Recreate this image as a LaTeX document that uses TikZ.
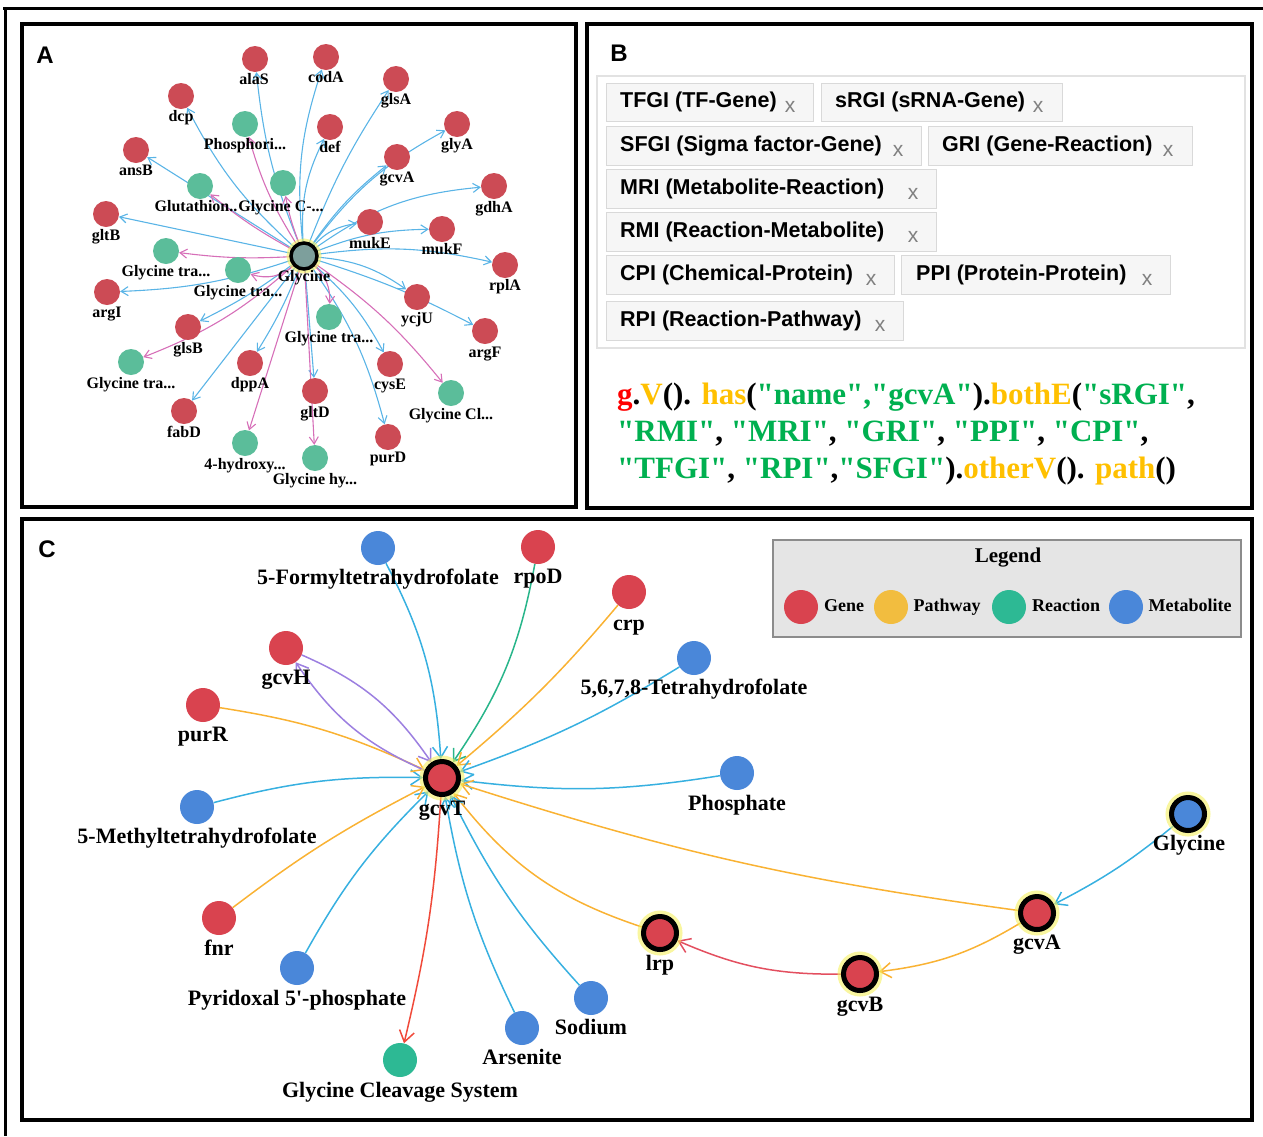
\documentclass[tikz,border=0pt]{standalone}
\usepackage{fontspec}
\setmainfont{Liberation Serif}
\newfontfamily\arialf{Liberation Sans}
\newfontfamily\plainserif{Liberation Serif}[Ligatures=TeXOff]
\usetikzlibrary{arrows.meta,bending}
\pgfdeclarelayer{edges}
\pgfsetlayers{edges,main}
% colours
\definecolor{geneA}{HTML}{CC4B55}
\definecolor{rxnA}{HTML}{5BBD9A}
\definecolor{hubA}{HTML}{7D9F9C}
\definecolor{eblue}{HTML}{5AB4E6}
\definecolor{epink}{HTML}{D66FB8}
\definecolor{glow}{HTML}{F5F060}
\definecolor{geneC}{HTML}{D9434F}
\definecolor{pathC}{HTML}{F2BD3F}
\definecolor{rxnC}{HTML}{2DB994}
\definecolor{metC}{HTML}{4A87D9}
\definecolor{cblue}{HTML}{37B0E0}
\definecolor{corange}{HTML}{F9B233}
\definecolor{cgreen}{HTML}{28B58A}
\definecolor{cpurple}{HTML}{9C7FE0}
\definecolor{cred}{HTML}{F04A3A}
\definecolor{cred2}{HTML}{E34F5F}
\definecolor{legfill}{HTML}{E5E5E5}
\definecolor{legborder}{HTML}{8C8C8C}
\definecolor{tagfill}{HTML}{F6F6F6}
\definecolor{tagborder}{HTML}{D9D9D9}
\definecolor{fieldborder}{HTML}{E2E2E2}
\definecolor{xgrey}{HTML}{808080}
\definecolor{codered}{HTML}{FF0000}
\definecolor{codeorange}{HTML}{FFC000}
\definecolor{codegreen}{HTML}{00B050}
\newcommand\labAfont{\fontsize{16}{16}\selectfont\bfseries}
\newcommand\labCfont{\fontsize{22}{22}\selectfont\bfseries}
\newcommand\legfont{\fontsize{18}{18}\selectfont\bfseries}
\newcommand\tagfont{\arialf\fontsize{21.5}{22}\selectfont\bfseries}
\newcommand\xfont{\arialf\fontsize{21}{21}\selectfont}
\newcommand\codefont{\plainserif\fontsize{31}{37}\selectfont\bfseries}
\newcommand\cR[1]{\textcolor{codered}{#1}}
\newcommand\cO[1]{\textcolor{codeorange}{#1}}
\newcommand\cG[1]{\textcolor{codegreen}{#1}}
\tikzset{
  frame/.style={draw=black, line width=4pt},
  plet/.style={font=\arialf\fontsize{24}{24}\selectfont\bfseries, inner sep=0pt},
  gA/.style={circle, fill=geneA, minimum size=26pt, inner sep=0pt},
  rA/.style={circle, fill=rxnA, minimum size=26pt, inner sep=0pt},
  hubAst/.style={circle, draw=black, line width=3.5pt, fill=hubA, minimum size=26pt, inner sep=0pt,
     preaction={draw=glow, line width=9pt, opacity=0.6}},
  lA/.style={font=\labAfont, inner sep=0pt, text height=11pt, text depth=3pt},
  eb/.style={draw=eblue, line width=1.1pt, -{Straight Barb[length=7pt,width=9pt]}},
  ep/.style={draw=epink, line width=1.1pt, -{Straight Barb[length=7pt,width=9pt]}},
  nC/.style={circle, minimum size=34pt, inner sep=0pt},
  gC/.style={nC, fill=geneC},
  mC/.style={nC, fill=metC},
  rC/.style={nC, fill=rxnC},
  pC/.style={nC, fill=pathC},
  hubC/.style={circle, draw=black, line width=5pt, minimum size=33pt, inner sep=0pt,
     preaction={draw=glow, line width=12pt, opacity=0.6}},
  lC/.style={font=\labCfont, inner sep=0pt, text height=15pt, text depth=5pt},
  legl/.style={font=\legfont, inner sep=0pt, text height=12pt, text depth=4pt},
  ec/.style={line width=1.5pt, -{Straight Barb[length=11pt,width=15pt]}},
  tagbox/.style={draw=tagborder, fill=tagfill, line width=1pt, inner sep=0pt},
  tagtxt/.style={font=\tagfont, inner sep=0pt, anchor=west, text height=15pt, text depth=4pt},
  tagx/.style={font=\xfont, text=xgrey, inner sep=0pt},
  codeline/.style={font=\codefont, inner sep=0pt, anchor=base west}
}
\begin{document}
\begin{tikzpicture}[x=1pt,y=1pt]
\useasboundingbox (0,0) rectangle (1263,-1136);
% ---------- frames ----------
\draw[line width=3pt] (3,-8) -- (1263,-8);
\draw[line width=3pt] (5,-8) -- (5,-1136);
\draw[frame] (22,-24) rectangle (576,-507);
\draw[frame] (587,-24) rectangle (1252,-508);
\draw[frame] (22,-519) rectangle (1252,-1120);
\node[plet] (letA) at (45,-55) {A};
\node[plet] (letB) at (619,-53) {B};
\node[plet] (letC) at (47,-549) {C};

% ---------- panel A ----------
\node[hubAst] (a-gly) at (304,-256) {};
\node[lA] (a-gly-l) at (304,-277) {Glycine};
% genes
\node[gA] (a-alaS) at (255,-59) {};  \node[lA] at (254,-80) (a-alaS-l) {alaS};
\node[gA] (a-codA) at (326,-57) {};  \node[lA] at (326,-78) (a-codA-l) {codA};
\node[gA] (a-glsA) at (396,-79) {};  \node[lA] at (396,-100) (a-glsA-l) {glsA};
\node[gA] (a-dcp) at (181,-96) {};   \node[lA] at (181,-117) (a-dcp-l) {dcp};
\node[gA] (a-glyA) at (457,-124) {}; \node[lA] at (457,-145) (a-glyA-l) {glyA};
\node[gA] (a-def) at (330,-127) {};  \node[lA] at (330,-148) (a-def-l) {def};
\node[gA] (a-ansB) at (136,-150) {}; \node[lA] at (136,-171) (a-ansB-l) {ansB};
\node[gA] (a-gcvA) at (397,-157) {}; \node[lA] at (397,-178) (a-gcvA-l) {gcvA};
\node[gA] (a-gdhA) at (494,-186) {}; \node[lA] at (494,-208) (a-gdhA-l) {gdhA};
\node[gA] (a-gltB) at (106,-214) {}; \node[lA] at (106,-236) (a-gltB-l) {gltB};
\node[gA] (a-mukE) at (370,-222) {}; \node[lA] at (370,-244) (a-mukE-l) {mukE};
\node[gA] (a-mukF) at (442,-229) {}; \node[lA] at (442,-250) (a-mukF-l) {mukF};
\node[gA] (a-rplA) at (505,-265) {}; \node[lA] at (505,-286) (a-rplA-l) {rplA};
\node[gA] (a-argI) at (107,-292) {}; \node[lA] at (107,-313) (a-argI-l) {argI};
\node[gA] (a-ycjU) at (417,-297) {}; \node[lA] at (417,-319) (a-ycjU-l) {ycjU};
\node[gA] (a-glsB) at (188,-327) {}; \node[lA] at (188,-349) (a-glsB-l) {glsB};
\node[gA] (a-argF) at (485,-331) {}; \node[lA] at (485,-353) (a-argF-l) {argF};
\node[gA] (a-dppA) at (250,-363) {}; \node[lA] at (250,-384) (a-dppA-l) {dppA};
\node[gA] (a-cysE) at (390,-364) {}; \node[lA] at (390,-385) (a-cysE-l) {cysE};
\node[gA] (a-gltD) at (315,-391) {}; \node[lA] at (315,-413) (a-gltD-l) {gltD};
\node[gA] (a-fabD) at (184,-411) {}; \node[lA] at (184,-433) (a-fabD-l) {fabD};
\node[gA] (a-purD) at (388,-437) {}; \node[lA] at (388,-458) (a-purD-l) {purD};
% reactions
\node[rA] (a-phos) at (245,-124) {}; \node[lA] at (245,-145) (a-phos-l) {Phosphori...};
\node[rA] (a-glyc) at (283,-183) {}; \node[lA] at (281,-207) (a-glyc-l) {Glycine C-...};
\node[rA] (a-glut) at (200,-186) {}; \node[lA] at (196,-207) (a-glut-l) {Glutathion..};
\node[rA] (a-gt1) at (166,-251) {};  \node[lA] at (166,-272) (a-gt1-l) {Glycine tra...};
\node[rA] (a-gt2) at (238,-270) {};  \node[lA] at (238,-292) (a-gt2-l) {Glycine tra...};
\node[rA] (a-gt3) at (329,-317) {};  \node[lA] at (329,-338) (a-gt3-l) {Glycine tra...};
\node[rA] (a-gt4) at (131,-362) {};  \node[lA] at (131,-384) (a-gt4-l) {Glycine tra...};
\node[rA] (a-gcl) at (451,-393) {};  \node[lA] at (451,-415) (a-gcl-l) {Glycine Cl...};
\node[rA] (a-hyd) at (245,-443) {};  \node[lA] at (245,-465) (a-hyd-l) {4-hydroxy...};
\node[rA] (a-ghy) at (315,-458) {};  \node[lA] at (315,-480) (a-ghy-l) {Glycine hy...};
\begin{pgfonlayer}{edges}
\draw[eb] (a-gly) to[bend left=8] (a-alaS);
\draw[eb] (a-gly) to[bend left=12] (a-codA);
\draw[eb] (a-gly) to[bend left=6] (a-glsA);
\draw[eb] (a-gly) to[bend left=10] (a-dcp);
\draw[eb] (a-gly) to[bend left=15] (a-def);
\draw[eb] (a-gly) to[bend left=8] (a-gcvA);
\draw[eb] (a-gly) to[bend left=12] (a-glyA);
\draw[eb] (a-gly) to[bend left=15] (a-gdhA);
\draw[eb] (a-gly) to[bend left=20] (a-mukE);
\draw[eb] (a-gly) to[bend left=10] (a-mukF);
\draw[eb] (a-gly) to[bend left=10] (a-rplA);
\draw[eb] (a-gly) to[bend left=15] (a-ycjU);
\draw[eb] (a-gly) to[bend left=5] (a-argF);
\draw[eb] (a-gly) to[bend left=10] (a-cysE);
\draw[eb] (a-gly) to[bend left=10] (a-purD);
\draw[eb] (a-gly) to (a-gltD);
\draw[eb] (a-gly) to[bend left=5] (a-dppA);
\draw[eb] (a-gly) to[bend left=5] (a-glsB);
\draw[eb] (a-gly) to (a-fabD);
\draw[eb] (a-gly) to[bend left=8] (a-argI);
\draw[eb] (a-gly) to (a-gltB);
\draw[eb] (a-gly) to (a-ansB);
\draw[ep] (a-gly) to[bend left=8] (a-phos);
\draw[ep] (a-gly) to[bend left=5] (a-glyc);
\draw[ep] (a-gly) to[bend left=5] (a-glut);
\draw[ep] (a-gly) to[bend left=5] (a-gt1);
\draw[ep] (a-gly) to[bend left=30] (a-gt2);
\draw[ep] (a-gly) to[bend left=25] (a-gt3);
\draw[ep] (a-gly) to[bend left=10] (a-gt4);
\draw[ep] (a-gly) to[bend left=8] (a-gcl);
\draw[ep] (a-gly) to (a-hyd);
\draw[ep] (a-gly) to (a-ghy);
\end{pgfonlayer}

% ---------- panel B ----------
\draw[draw=fieldborder, line width=1.2pt] (597,-76) rectangle (1245,-348);
\node[tagbox, minimum width=207pt, minimum height=38pt] (t1) at (709.5,-102) {};
\node[tagtxt] (t1-t) at (620,-102) {TFGI (TF-Gene)};
\node[tagx] (t1-x) at (790,-107) {x};
\node[tagbox, minimum width=241pt, minimum height=38pt] (t2) at (941.5,-102) {};
\node[tagtxt] (t2-t) at (835,-102) {sRGI (sRNA-Gene)};
\node[tagx] (t2-x) at (1038,-107) {x};
\node[tagbox, minimum width=315pt, minimum height=39pt] (t3) at (763.5,-145.5) {};
\node[tagtxt] (t3-t) at (620,-145.5) {SFGI (Sigma factor-Gene)};
\node[tagx] (t3-x) at (898,-150.5) {x};
\node[tagbox, minimum width=264pt, minimum height=39pt] (t4) at (1060,-145.5) {};
\node[tagtxt] (t4-t) at (942,-145.5) {GRI (Gene-Reaction)};
\node[tagx] (t4-x) at (1168,-150.5) {x};
\node[tagbox, minimum width=330pt, minimum height=39pt] (t5) at (771,-188.5) {};
\node[tagtxt] (t5-t) at (620,-188.5) {MRI (Metabolite-Reaction)};
\node[tagx] (t5-x) at (913,-193.5) {x};
\node[tagbox, minimum width=330pt, minimum height=39pt] (t6) at (771,-231.5) {};
\node[tagtxt] (t6-t) at (620,-231.5) {RMI (Reaction-Metabolite)};
\node[tagx] (t6-x) at (913,-236.5) {x};
\node[tagbox, minimum width=288pt, minimum height=39pt] (t7) at (750,-274.5) {};
\node[tagtxt] (t7-t) at (620,-274.5) {CPI (Chemical-Protein)};
\node[tagx] (t7-x) at (871,-279.5) {x};
\node[tagbox, minimum width=269pt, minimum height=39pt] (t8) at (1035.5,-274.5) {};
\node[tagtxt] (t8-t) at (916,-274.5) {PPI (Protein-Protein)};
\node[tagx] (t8-x) at (1147,-279.5) {x};
\node[tagbox, minimum width=297pt, minimum height=39pt] (t9) at (754.5,-320.5) {};
\node[tagtxt] (t9-t) at (620,-320.5) {RPI (Reaction-Pathway)};
\node[tagx] (t9-x) at (880,-325.5) {x};
% code
\node[codeline] (code1) at (617,-404) {\cR{g}.\cO{V}(). \cO{has}(\cG{"name","gcvA"}).\cO{bothE}(\cG{"sRGI"},};
\node[codeline] (code2) at (617,-441) {\cG{"RMI"}, \cG{"MRI"}, \cG{"GRI"}, \cG{"PPI"}, \cG{"CPI"},};
\node[codeline] (code3) at (617,-478) {\cG{"TFGI"}, \cG{"RPI"},\cG{"SFGI"}).\cO{otherV}(). \cO{path}()};

% ---------- panel C ----------
% legend
\node[draw=legborder, fill=legfill, line width=1.5pt, minimum width=468pt, minimum height=97pt, inner sep=0pt] (leg) at (1007,-588.5) {};
\node[font=\fontsize{21}{21}\selectfont\bfseries, inner sep=0pt] (leg-t) at (1008,-558) {Legend};
\node[gC] (leg-g) at (801,-607) {};  \node[legl] (leg-gl) at (844,-607) {Gene};
\node[pC] (leg-p) at (891,-607) {};  \node[legl] (leg-pl) at (947,-607) {Pathway};
\node[rC] (leg-r) at (1009,-607) {}; \node[legl] (leg-rl) at (1066,-607) {Reaction};
\node[mC] (leg-m) at (1126,-607) {}; \node[legl] (leg-ml) at (1190,-607) {Metabolite};
% nodes
\node[hubC, fill=geneC] (gcvT) at (442,-778) {}; \node[lC] (gcvT-l) at (442,-810) {gcvT};
\node[mC] (fthf) at (378,-548) {}; \node[lC] (fthf-l) at (378,-579) {5-Formyltetrahydrofolate};
\node[gC] (rpoD) at (538,-547) {}; \node[lC] (rpoD-l) at (538,-578) {rpoD};
\node[gC] (crp) at (629,-592) {}; \node[lC] (crp-l) at (629,-625) {crp};
\node[gC] (gcvH) at (286,-648) {}; \node[lC] (gcvH-l) at (286,-679) {gcvH};
\node[mC] (thf) at (694,-658) {}; \node[lC] (thf-l) at (694,-689) {5,6,7,8-Tetrahydrofolate};
\node[gC] (purR) at (203,-705) {}; \node[lC] (purR-l) at (203,-736) {purR};
\node[mC] (phosC) at (737,-773) {}; \node[lC] (phosC-l) at (737,-805) {Phosphate};
\node[mC] (mthf) at (197,-807) {}; \node[lC] (mthf-l) at (197,-838) {5-Methyltetrahydrofolate};
\node[hubC, fill=metC] (glyC) at (1188,-814) {}; \node[lC] (glyC-l) at (1189,-845) {Glycine};
\node[hubC, fill=geneC] (gcvAC) at (1037,-913) {}; \node[lC] (gcvAC-l) at (1037,-944) {gcvA};
\node[gC] (fnr) at (219,-918) {}; \node[lC] (fnr-l) at (219,-950) {fnr};
\node[hubC, fill=geneC] (lrp) at (660,-933) {}; \node[lC] (lrp-l) at (660,-965) {lrp};
\node[hubC, fill=geneC] (gcvB) at (860,-974) {}; \node[lC] (gcvB-l) at (860,-1006) {gcvB};
\node[mC] (plp) at (297,-968) {}; \node[lC, font=\plainserif\labCfont] (plp-l) at (297,-1000) {Pyridoxal 5'-phosphate};
\node[mC] (sod) at (591,-998) {}; \node[lC] (sod-l) at (591,-1029) {Sodium};
\node[mC] (ars) at (522,-1028) {}; \node[lC] (ars-l) at (522,-1059) {Arsenite};
\node[rC] (gcs) at (400,-1060) {}; \node[lC] (gcs-l) at (400,-1092) {Glycine Cleavage System};
\begin{pgfonlayer}{edges}
\draw[ec, draw=cblue] (fthf) to[bend left=12] (gcvT);
\draw[ec, draw=cgreen] (rpoD) to[bend left=12] (gcvT);
\draw[ec, draw=corange] (crp) to[bend left=5] (gcvT);
\draw[ec, draw=cblue] (thf) to[bend left=6] (gcvT);
\draw[ec, draw=cblue] (phosC) to[bend left=8] (gcvT);
\draw[ec, draw=corange] (gcvAC) to[bend left=5] (gcvT);
\draw[ec, draw=corange] (lrp) to[bend left=17] (gcvT);
\draw[ec, draw=cblue] (sod) to[bend left=8] (gcvT);
\draw[ec, draw=cblue] (ars) to[bend left=8] (gcvT);
\draw[ec, draw=cred] (gcvT) to[bend left=5] (gcs);
\draw[ec, draw=cblue] (plp) to[bend left=8] (gcvT);
\draw[ec, draw=corange] (fnr) to[bend left=5] (gcvT);
\draw[ec, draw=cblue] (mthf) to[bend left=8] (gcvT);
\draw[ec, draw=corange] (purR) to[bend left=8] (gcvT);
\draw[ec, draw=cpurple] (gcvH) to[bend left=16] (gcvT);
\draw[ec, draw=cpurple] (gcvT) to[bend left=16] (gcvH);
\draw[ec, draw=cblue] (glyC) to[bend left=6] (gcvAC);
\draw[ec, draw=corange] (gcvAC) to[bend left=12] (gcvB);
\draw[ec, draw=cred2] (gcvB) to[bend left=12] (lrp);
\end{pgfonlayer}
\end{tikzpicture}
\end{document}
